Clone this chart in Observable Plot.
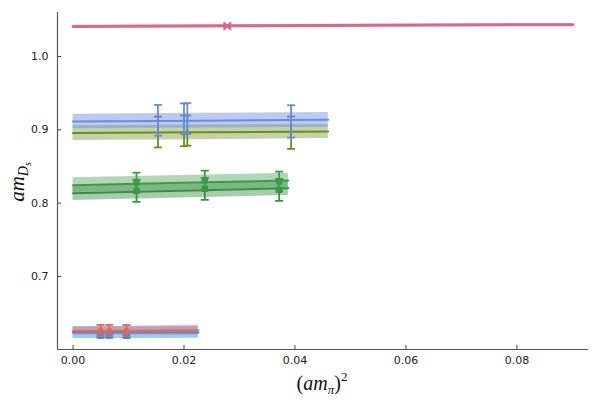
<!DOCTYPE html>
<html>
<head>
<meta charset="utf-8">
<script src="https://cdn.jsdelivr.net/npm/d3@7"></script>
<script src="https://cdn.jsdelivr.net/npm/@observablehq/plot@0.6"></script>
<style>
  html, body { margin: 0; padding: 0; background: #fff; }
  #chart { width: 600px; height: 400px; }
</style>
</head>
<body>
<div id="chart"></div>
<script>
// ---- axes ----
const xTicks = [0, 0.02, 0.04, 0.06, 0.08];
const yTicks = [0.7, 0.8, 0.9, 1.0];
const xDomain = [-0.0028, 0.0929];
const yDomain = [0.6004, 1.06];

// ---- data points (x, y, error) ----
const pinkX = [0.0278];
const pinkY = [1.0415];
const pinkErr = [0.0012];

const blueX = [0.0153, 0.0200, 0.0206, 0.0393];
const blueY = [0.9130, 0.9150, 0.9153, 0.9115];
const blueErr = [0.021, 0.021, 0.021, 0.022];

const oliveX = [0.0153, 0.0200, 0.0206, 0.0393];
const oliveY = [0.8970, 0.8986, 0.8990, 0.8960];
const oliveErr = [0.021, 0.021, 0.0205, 0.022];

const greenAX = [0.01144, 0.02375, 0.03715];
const greenAY = [0.8281, 0.8308, 0.8295];
const greenAErr = [0.0135, 0.0135, 0.0135];

const greenBX = [0.01144, 0.02375, 0.03715];
const greenBY = [0.8168, 0.8195, 0.8181];
const greenBErr = [0.0150, 0.0150, 0.0150];

const redX = [0.00495, 0.00652, 0.00964];
const redY = [0.6262, 0.6262, 0.6260];
const redErr = [0.0078, 0.0078, 0.0078];

const cyanX = [0.00495, 0.00652, 0.00964];
const cyanY = [0.6186, 0.6186, 0.6184];
const cyanErr = [0.0022, 0.0022, 0.0022];

// ---- fit curves (x grid, central value, half width) ----
const pinkFitX = [0, 0.045, 0.0901];
const pinkFitY = [1.0410, 1.0424, 1.0434];
const pinkFitErr = [0.0015, 0.0015, 0.0015];

const blueFitX = [0, 0.023, 0.046];
const blueFitY = [0.9113, 0.9125, 0.9136];
const blueFitErr = [0.0100, 0.0100, 0.0100];

const oliveFitX = [0, 0.023, 0.046];
const oliveFitY = [0.8955, 0.8966, 0.8977];
const oliveFitErr = [0.0100, 0.0100, 0.0095];

const greenAFitX = [0, 0.0194, 0.0388];
const greenAFitY = [0.8245, 0.8277, 0.8308];
const greenAFitErr = [0.0100, 0.0100, 0.0100];

const greenBFitX = [0, 0.0194, 0.0388];
const greenBFitY = [0.8136, 0.8170, 0.8204];
const greenBFitErr = [0.0100, 0.0100, 0.0100];

const redFitX = [0, 0.010, 0.0226];
const redFitY = [0.6258, 0.6261, 0.6268];
const redFitErr = [0.0058, 0.0060, 0.0070];

const cyanFitX = [0, 0.010, 0.0226];
const cyanFitY = [0.6235, 0.6235, 0.6236];
const cyanFitErr = [0.0080, 0.0080, 0.0080];

// ---- colours ----
const colors = {
  pink: "#d8688c",
  blue: "#6a8ae0",
  olive: "#6b8e23",
  greenA: "#3f9a48",
  greenB: "#3a8f44",
  red: "#e0675d",
  cyan: "#1a90f5"
};

function pts(xs, ys, es) { return xs.map((x, i) => ({x, y: ys[i], lo: ys[i] - es[i], hi: ys[i] + es[i]})); }
function fit(xs, ys, es) { return xs.map((x, i) => ({x, y: ys[i], lo: ys[i] - es[i], hi: ys[i] + es[i]})); }

const capSymbol = {
  draw(context, size) {
    const w = Math.sqrt(size / Math.PI);
    context.moveTo(-w, 0);
    context.lineTo(w, 0);
  }
};

function errorMarks(data, color, opts = {}) {
  const sw = opts.sw ?? 1.8;
  const marks = [
    Plot.ruleX(data, {x: "x", y1: "lo", y2: "hi", stroke: color, strokeWidth: sw}),
    Plot.dot(data, {x: "x", y: "lo", symbol: capSymbol, r: 4, stroke: color, strokeWidth: sw}),
    Plot.dot(data, {x: "x", y: "hi", symbol: capSymbol, r: 4, stroke: color, strokeWidth: sw})
  ];
  if (opts.marker) {
    if (opts.marker === "times") {
      marks.push(Plot.dot(data, {x: "x", y: "y", symbol: "times", r: 3.5, stroke: color, strokeWidth: 2.2}));
    } else {
      marks.push(Plot.dot(data, {x: "x", y: "y", symbol: opts.marker, r: opts.r ?? 3.2, fill: color, stroke: color, strokeWidth: 1}));
    }
  }
  return marks;
}

function fitMarks(data, color, fo = 0.45, sw = 2) {
  return [
    Plot.areaY(data, {x: "x", y1: "lo", y2: "hi", fill: color, fillOpacity: fo}),
    Plot.line(data, {x: "x", y: "y", stroke: color, strokeWidth: sw})
  ];
}

const fmt2 = d3.format(".2f");
const fmt1 = d3.format(".1f");

const plot = Plot.plot({
  width: 600,
  height: 400,
  marginLeft: 57,
  marginRight: 12,
  marginTop: 12,
  marginBottom: 51,
  style: {fontFamily: "DejaVu Sans", fontSize: "11px", color: "#222", background: "#fff"},
  x: {domain: xDomain, ticks: xTicks, tickFormat: fmt2, label: null},
  y: {domain: yDomain, ticks: yTicks, tickFormat: fmt1, label: null},
  marks: [
    Plot.axisX({ticks: xTicks, tickFormat: fmt2, tickSize: -4, tickPadding: 11, stroke: "#444", label: null}),
    Plot.axisY({ticks: yTicks, tickFormat: fmt1, tickSize: -4, tickPadding: 13, stroke: "#444", label: null}),
    // bottom group
    ...fitMarks(fit(cyanFitX, cyanFitY, cyanFitErr), colors.cyan, 0.45, 2),
    ...errorMarks(pts(cyanX, cyanY, cyanErr), colors.cyan, {marker: "square", r: 2.2}),
    ...fitMarks(fit(redFitX, redFitY, redFitErr), colors.red, 0.4, 2),
    ...errorMarks(pts(redX, redY, redErr), colors.red, {marker: "square", r: 2.2}),
    // green group
    ...fitMarks(fit(greenBFitX, greenBFitY, greenBFitErr), colors.greenB, 0.45, 2),
    ...errorMarks(pts(greenBX, greenBY, greenBErr), colors.greenB, {marker: "square", r: 3}),
    ...fitMarks(fit(greenAFitX, greenAFitY, greenAFitErr), colors.greenA, 0.4, 2),
    ...errorMarks(pts(greenAX, greenAY, greenAErr), colors.greenA, {marker: "square", r: 3}),
    // olive / blue group
    ...fitMarks(fit(oliveFitX, oliveFitY, oliveFitErr), colors.olive, 0.4, 2),
    ...errorMarks(pts(oliveX, oliveY, oliveErr), colors.olive),
    ...fitMarks(fit(blueFitX, blueFitY, blueFitErr), colors.blue, 0.45, 2),
    ...errorMarks(pts(blueX, blueY, blueErr), colors.blue),
    // pink
    ...fitMarks(fit(pinkFitX, pinkFitY, pinkFitErr), colors.pink, 0.45, 3),
    ...errorMarks(pts(pinkX, pinkY, pinkErr), colors.pink, {marker: "times"}),
    // axis lines
    Plot.ruleX([xDomain[0]], {stroke: "#555", strokeWidth: 1.2}),
    Plot.ruleY([yDomain[0]], {stroke: "#555", strokeWidth: 1.2})
  ]
});

document.getElementById("chart").appendChild(plot);

// ---- math-style axis labels ----
const svg = d3.select(plot);
const serif = "'Liberation Serif', 'DejaVu Serif', serif";

const yl = svg.append("text")
  .attr("transform", "translate(24,182) rotate(-90)")
  .attr("text-anchor", "middle")
  .attr("font-family", serif)
  .attr("font-style", "italic")
  .attr("font-size", 21)
  .attr("fill", "#111");
yl.append("tspan").text("am");
yl.append("tspan").attr("font-size", 14).attr("dy", 4).text("D");
yl.append("tspan").attr("font-size", 10).attr("dy", 3).text("s");

const xl = svg.append("text")
  .attr("x", 322)
  .attr("y", 390)
  .attr("text-anchor", "middle")
  .attr("font-family", serif)
  .attr("font-size", 20)
  .attr("fill", "#111");
xl.append("tspan").attr("font-style", "normal").text("(");
xl.append("tspan").attr("font-style", "italic").text("am");
xl.append("tspan").attr("font-style", "italic").attr("font-size", 13).attr("dy", 4).text("π");
xl.append("tspan").attr("font-style", "normal").attr("dy", -4).text(")");
xl.append("tspan").attr("font-size", 13).attr("dy", -9).text("2");
</script>
</body>
</html>
